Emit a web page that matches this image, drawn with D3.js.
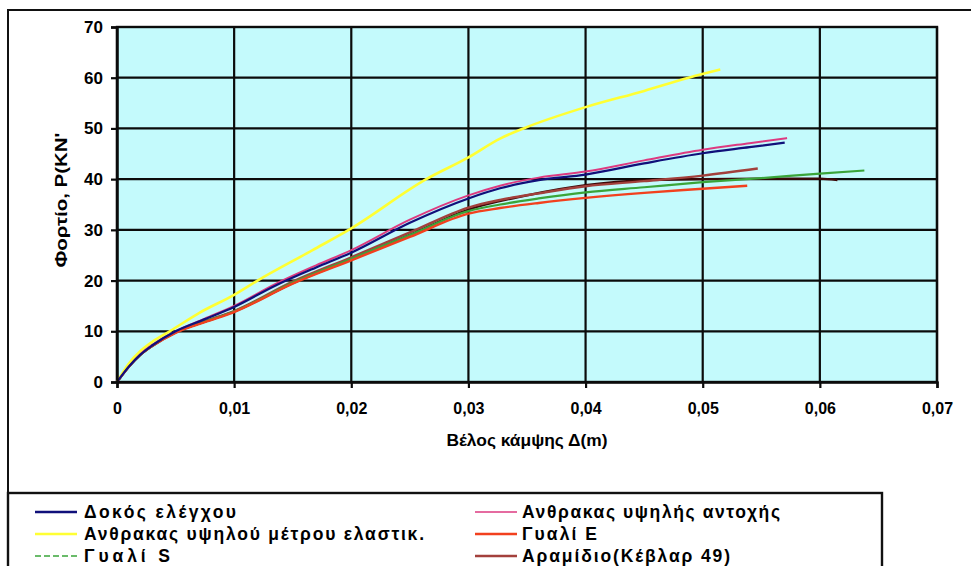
<!DOCTYPE html>
<html>
<head>
<meta charset="utf-8">
<script src="https://cdn.jsdelivr.net/npm/d3@7"></script>
<style>
  html, body { margin: 0; padding: 0; background: #ffffff; }
  svg { display: block; }
  text { font-family: "Liberation Sans", Arial, sans-serif; font-weight: bold; fill: #000; }
</style>
</head>
<body>
<svg id="chart" width="971" height="566"></svg>
<script>
// Deflection (m) / load (kN) curves for each strengthening scheme
const seriesNames = [
  "Δοκός ελέγχου",
  "Ανθρακας υψηλής αντοχής",
  "Ανθρακας υψηλού μέτρου ελαστικ.",
  "Γυαλί E",
  "Γυαλί S",
  "Αραμίδιο(Κέβλαρ 49)",
  ""
];
const seriesColors = ["#10107a", "#dd3a80", "#ffff33", "#f2401e", "#3aa53a", "#a3403c", "#3c0808"];
const seriesWidths = [2.2, 2.0, 2.6, 2.4, 2.2, 2.4, 2.4];

const controlBeam = [
  [0, 0], [0.001, 3], [0.002, 5.4], [0.003, 7.2], [0.005, 10], [0.0075, 12.4], [0.01, 14.8],
  [0.0135, 19], [0.017, 22.6], [0.02, 25.5], [0.025, 31.4], [0.03, 36.2], [0.0327, 38.2],
  [0.036, 39.8], [0.04, 40.9], [0.045, 43.1], [0.05, 45.1], [0.054, 46.3], [0.057, 47.2]
];
const carbonHighStrength = [
  [0, 0], [0.001, 3], [0.002, 5.5], [0.003, 7.3], [0.005, 10], [0.0075, 12.5], [0.01, 15],
  [0.0135, 19.3], [0.017, 23], [0.02, 26], [0.025, 32], [0.03, 36.8], [0.0327, 38.7],
  [0.036, 40.3], [0.04, 41.5], [0.045, 43.7], [0.05, 45.8], [0.054, 47.1], [0.0572, 48.1]
];
const carbonHighModulus = [
  [0, 0], [0.001, 3.6], [0.002, 6.1], [0.003, 7.9], [0.0045, 10], [0.007, 13.6], [0.01, 17.2],
  [0.012, 20], [0.0167, 26], [0.02, 30.3], [0.0264, 40], [0.03, 44.3], [0.0327, 48],
  [0.0347, 50], [0.04, 54.2], [0.045, 57.4], [0.0488, 60], [0.0515, 61.6]
];
const glassE = [
  [0, 0], [0.001, 3], [0.002, 5.4], [0.003, 7.1], [0.005, 9.7], [0.0075, 11.8], [0.01, 13.8],
  [0.015, 19.4], [0.02, 24], [0.025, 28.6], [0.03, 33.2], [0.0327, 34.3], [0.036, 35.3],
  [0.04, 36.3], [0.045, 37.3], [0.05, 38.1], [0.0538, 38.7]
];
const glassS = [
  [0, 0], [0.001, 3], [0.002, 5.4], [0.003, 7.1], [0.005, 9.8], [0.0075, 11.9], [0.01, 13.9],
  [0.015, 19.6], [0.02, 24.3], [0.025, 29], [0.03, 33.7], [0.0327, 35], [0.036, 36.2],
  [0.04, 37.4], [0.045, 38.4], [0.05, 39.4], [0.055, 40.2], [0.06, 41.1], [0.0638, 41.7]
];
const aramid = [
  [0, 0], [0.001, 3], [0.002, 5.4], [0.003, 7.2], [0.005, 9.9], [0.0075, 12], [0.01, 14],
  [0.015, 19.8], [0.02, 24.6], [0.025, 29.5], [0.03, 34.4], [0.0327, 35.9], [0.036, 37.2],
  [0.04, 38.6], [0.045, 39.6], [0.05, 40.7], [0.0547, 42.1]
];
const extraSpecimen = [
  [0, 0], [0.001, 3], [0.002, 5.4], [0.003, 7.1], [0.005, 9.8], [0.0075, 11.9], [0.01, 13.9],
  [0.015, 19.5], [0.02, 24.2], [0.025, 29], [0.03, 34], [0.035, 36.8], [0.04, 38.8],
  [0.045, 39.8], [0.05, 40], [0.055, 40.1], [0.06, 40.1], [0.0615, 39.8]
];
const seriesData = [controlBeam, carbonHighStrength, carbonHighModulus, glassE, glassS, aramid, extraSpecimen];

const xTicks = [0, 0.01, 0.02, 0.03, 0.04, 0.05, 0.06, 0.07];
const xTickLabels = ["0", "0,01", "0,02", "0,03", "0,04", "0,05", "0,06", "0,07"];
const yTicks = [0, 10, 20, 30, 40, 50, 60, 70];
const xTitle = "Βέλος κάμψης Δ(m)";
const yTitle = "Φορτίο, P(KN'";

const svg = d3.select("#chart");
const plot = { left: 117, right: 937, top: 27, bottom: 382 };

const x = d3.scaleLinear().domain([0, 0.07]).range([plot.left, plot.right]);
const y = d3.scaleLinear().domain([0, 70]).range([plot.bottom, plot.top]);

// Outer chart frame
svg.append("rect")
  .attr("x", 8).attr("y", 10).attr("width", 1000).attr("height", 600)
  .attr("fill", "#ffffff").attr("stroke", "#111").attr("stroke-width", 2);

// Plot background
svg.append("rect")
  .attr("x", plot.left).attr("y", plot.top)
  .attr("width", plot.right - plot.left).attr("height", plot.bottom - plot.top)
  .attr("fill", "#c4fafc");

// Gridlines
const grid = svg.append("g").attr("stroke", "#0b0b0b").attr("stroke-width", 2.2);
grid.selectAll("line.gx").data(xTicks).join("line")
  .attr("x1", d => x(d)).attr("x2", d => x(d))
  .attr("y1", plot.top).attr("y2", plot.bottom);
grid.selectAll("line.gy").data(yTicks).join("line")
  .attr("x1", plot.left).attr("x2", plot.right)
  .attr("y1", d => y(d)).attr("y2", d => y(d));

// Plot border
svg.append("rect")
  .attr("x", plot.left).attr("y", plot.top)
  .attr("width", plot.right - plot.left).attr("height", plot.bottom - plot.top)
  .attr("fill", "none").attr("stroke", "#0b0b0b").attr("stroke-width", 2.4);

// Curves
const line = d3.line().x(d => x(d[0])).y(d => y(d[1])).curve(d3.curveMonotoneX);
const drawOrder = [6, 5, 4, 3, 2, 1, 0];
svg.append("g").selectAll("path").data(drawOrder).join("path")
  .attr("d", i => line(seriesData[i]))
  .attr("fill", "none")
  .attr("stroke", i => seriesColors[i])
  .attr("stroke-width", i => seriesWidths[i])
  .attr("stroke-linejoin", "round");

// Axes
const xAxis = d3.axisBottom(x).tickValues(xTicks)
  .tickFormat((d, i) => xTickLabels[i]).tickSize(6).tickPadding(15);
const gx = svg.append("g").attr("transform", `translate(0,${plot.bottom})`).call(xAxis);
gx.select(".domain").attr("stroke", "#0b0b0b").attr("stroke-width", 2.4);
gx.selectAll(".tick line").attr("stroke", "#0b0b0b").attr("stroke-width", 2.2);
gx.selectAll(".tick text").attr("font-size", 16).attr("font-family", null);

const yAxis = d3.axisLeft(y).tickValues(yTicks).tickSize(6).tickPadding(8);
const gy = svg.append("g").attr("transform", `translate(${plot.left},0)`).call(yAxis);
gy.select(".domain").attr("stroke", "#0b0b0b").attr("stroke-width", 2.4);
gy.selectAll(".tick line").attr("stroke", "#0b0b0b").attr("stroke-width", 2.2);
gy.selectAll(".tick text").attr("font-size", 17).attr("font-family", null);

// Axis titles
svg.append("text")
  .attr("x", 527).attr("y", 446)
  .attr("text-anchor", "middle").attr("font-size", 16)
  .attr("textLength", 161).attr("lengthAdjust", "spacingAndGlyphs")
  .text(xTitle);
svg.append("text")
  .attr("transform", "translate(67,200) rotate(-90)")
  .attr("text-anchor", "middle").attr("font-size", 16)
  .attr("textLength", 135).attr("lengthAdjust", "spacingAndGlyphs")
  .text(yTitle);

// Legend
svg.append("rect")
  .attr("x", 8).attr("y", 493).attr("width", 874).attr("height", 120)
  .attr("fill", "#ffffff").attr("stroke", "#111").attr("stroke-width", 2.4);

const legendCols = [{ lx: 35, tx: 84 }, { lx: 475, tx: 522 }];
const legendRows = [512, 534, 556];
const legendWidths = [152, 258, 340, 75, 86, 208];
const legendSlots = [[0, 0], [1, 0], [0, 1], [1, 1], [0, 2], [1, 2]];
const legend = svg.append("g");
seriesNames.forEach((name, i) => {
  if (!name) return;
  const [c, r] = legendSlots[i];
  const col = legendCols[c];
  const yy = legendRows[r];
  legend.append("line")
    .attr("x1", col.lx).attr("x2", col.lx + 42)
    .attr("y1", yy).attr("y2", yy)
    .attr("stroke", seriesColors[i])
    .attr("stroke-width", i === 1 || i === 4 ? 1.6 : 2.6)
    .attr("stroke-dasharray", i === 4 ? "6,3" : null);
  legend.append("text")
    .attr("x", col.tx).attr("y", yy + 6)
    .attr("font-size", 17.5)
    .attr("textLength", legendWidths[i])
    .attr("lengthAdjust", "spacing")
    .text(name);
});
</script>
</body>
</html>
